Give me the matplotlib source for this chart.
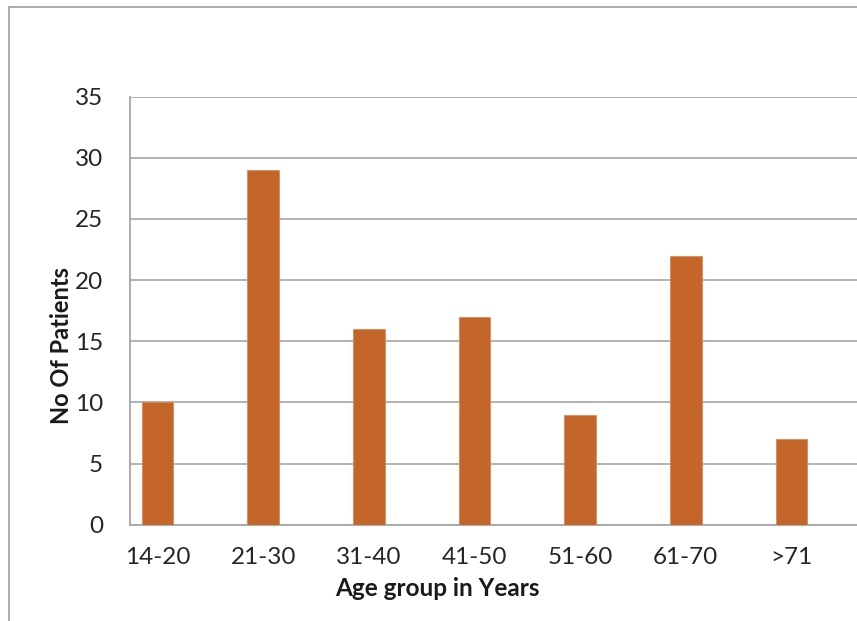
import numpy as np
import matplotlib
matplotlib.use('Agg')
import matplotlib.pyplot as plt
from matplotlib.lines import Line2D

# dati
age_groups = ['14-20', '21-30', '31-40', '41-50', '51-60', '61-70', '>71']
patients = [10, 29, 16, 17, 9, 22, 7]
y_ticks = [0, 5, 10, 15, 20, 25, 30, 35]

W, H = 857, 621
plt.rcParams['font.family'] = ['Lato', 'DejaVu Sans']

fig = plt.figure(figsize=(W/100, H/100), dpi=100)
fig.patch.set_facecolor('white')

# cornice esterna del grafico
fig.add_artist(Line2D([9/W, 9/W], [0, 1-7/H], color='#a6a6a6', lw=1.3))
fig.add_artist(Line2D([9/W, 1], [1-7/H, 1-7/H], color='#a6a6a6', lw=1.3))

left, right = 129.5, 857
top, bottom = 96.7, 524.7
ax = fig.add_axes([left/W, 1-bottom/H, (right-left)/W, (bottom-top)/H])

x = np.arange(len(age_groups))
ax.bar(x, patients, width=0.30, color='#c4652a', edgecolor='#d98a5a', linewidth=0.6, zorder=3)

ax.set_ylim(0, 35)
ax.set_xlim(-0.265, 6.62)
ax.set_yticks(y_ticks)
ax.set_xticks(x)
ax.set_xticklabels(age_groups)
ax.yaxis.grid(True, color='#a6a6a6', lw=1.2, zorder=0)

for s in ['top', 'right']:
    ax.spines[s].set_visible(False)
for s in ['left', 'bottom']:
    ax.spines[s].set_color('#a6a6a6')
    ax.spines[s].set_linewidth(1.3)

ax.tick_params(axis='both', length=0, labelsize=17.5, colors='#262626')
ax.tick_params(axis='y', pad=19)
ax.tick_params(axis='x', pad=16)

fig.text(437.5/W, 1-589/H, 'Age group in Years', ha='center', va='center',
         fontsize=17.5, fontweight='bold', color='#1a1a1a')
fig.text(62/W, 1-345/H, 'No Of Patients', ha='center', va='center', rotation=90,
         fontsize=17, fontweight='bold', color='#1a1a1a')

fig.savefig('out.png', dpi=100)
